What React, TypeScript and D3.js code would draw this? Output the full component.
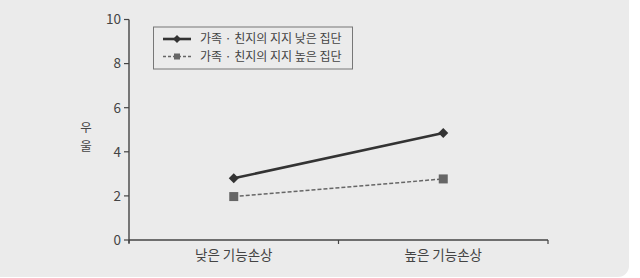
import React from "react";
import * as d3 from "d3";

const categories = ["낮은 기능손상", "높은 기능손상"];
const seriesNames = ["가족 · 친지의 지지 낮은 집단", "가족 · 친지의 지지 높은 집단"];
const lowSupport = [2.8, 4.85];
const highSupport = [1.97, 2.77];
const yTicks = [0, 2, 4, 6, 8, 10];
const yLabel = ["우", "울"];

const W = 640;
const H = 278;
const left = 129;
const right = 548;
const top = 19.5;
const bottom = 240;
const FONT = "'Noto Sans CJK KR', 'Noto Sans', sans-serif";

const diamondPath = (r: number) => `M0,${-r}L${r},0L0,${r}L${-r},0Z`;

export default function App() {
  const x = d3.scaleBand<string>().domain(categories).range([left, right]).padding(0);
  const y = d3.scaleLinear().domain([0, 10]).range([bottom, top]);
  const cx = (c: string) => (x(c) as number) + x.bandwidth() / 2;
  const line = d3
    .line<number>()
    .x((_, i) => cx(categories[i]))
    .y((d) => y(d));
  const boundaries = [left, ...categories.map((c) => (x(c) as number) + x.bandwidth())];

  return (
    <svg
      width={W}
      height={H}
      style={{ position: "absolute", left: 0, top: 0, display: "block" }}
      fontFamily={FONT}
    >
      <rect x={0} y={0} width={W} height={H} fill="#ffffff" />
      <rect x={-12} y={-12} width={641} height={289} rx={11} fill="#ebebeb" />

      {/* y axis */}
      <line x1={left} x2={left} y1={top} y2={bottom + 3} stroke="#444" strokeWidth={1.4} />
      {yTicks.map((t) => (
        <g key={t}>
          <line x1={left - 5} x2={left} y1={y(t)} y2={y(t)} stroke="#444" strokeWidth={1.2} />
          <text
            x={left - 8}
            y={y(t)}
            dy="0.36em"
            textAnchor="end"
            fontSize={13.5}
            fill="#444"
          >
            {t}
          </text>
        </g>
      ))}
      {yLabel.map((ch, i) => (
        <text key={ch} x={86} y={127 + i * 19} dy="0.36em" textAnchor="middle" fontSize={12.5} fill="#444">
          {ch}
        </text>
      ))}

      {/* x axis */}
      <line x1={left} x2={right} y1={bottom} y2={bottom} stroke="#444" strokeWidth={1.4} />
      {boundaries.map((b, i) => (
        <line key={i} x1={b} x2={b} y1={bottom} y2={bottom + 4} stroke="#444" strokeWidth={1.2} />
      ))}
      {categories.map((c) => (
        <text key={c} x={cx(c)} y={255} dy="0.36em" textAnchor="middle" fontSize={13.5} fill="#444">
          {c}
        </text>
      ))}

      {/* series 2 (high support) */}
      <path
        d={line(highSupport) as string}
        fill="none"
        stroke="#666"
        strokeWidth={1.5}
        strokeDasharray="4,2"
      />
      {highSupport.map((v, i) => (
        <rect
          key={i}
          x={cx(categories[i]) - 4.5}
          y={y(v) - 4.5}
          width={9}
          height={9}
          fill="#666"
        />
      ))}

      {/* series 1 (low support) */}
      <path d={line(lowSupport) as string} fill="none" stroke="#333" strokeWidth={2.6} />
      {lowSupport.map((v, i) => (
        <path
          key={i}
          d={diamondPath(5)}
          transform={`translate(${cx(categories[i])},${y(v)})`}
          fill="#333"
        />
      ))}

      {/* legend */}
      <rect x={153.5} y={27} width={199} height={42} fill="#ebebeb" stroke="#777" strokeWidth={1} />
      <line x1={163} x2={191} y1={39} y2={39} stroke="#333" strokeWidth={2.6} />
      <path d={diamondPath(4)} transform="translate(177,39)" fill="#333" />
      <text x={200} y={39} dy="0.36em" fontSize={12} fill="#444">
        {seriesNames[0]}
      </text>
      <line x1={163} x2={191} y1={56.5} y2={56.5} stroke="#666" strokeWidth={1.5} strokeDasharray="3,2" />
      <rect x={174} y={53.5} width={6} height={6} fill="#666" />
      <text x={200} y={56.5} dy="0.36em" fontSize={12} fill="#444">
        {seriesNames[1]}
      </text>
    </svg>
  );
}
